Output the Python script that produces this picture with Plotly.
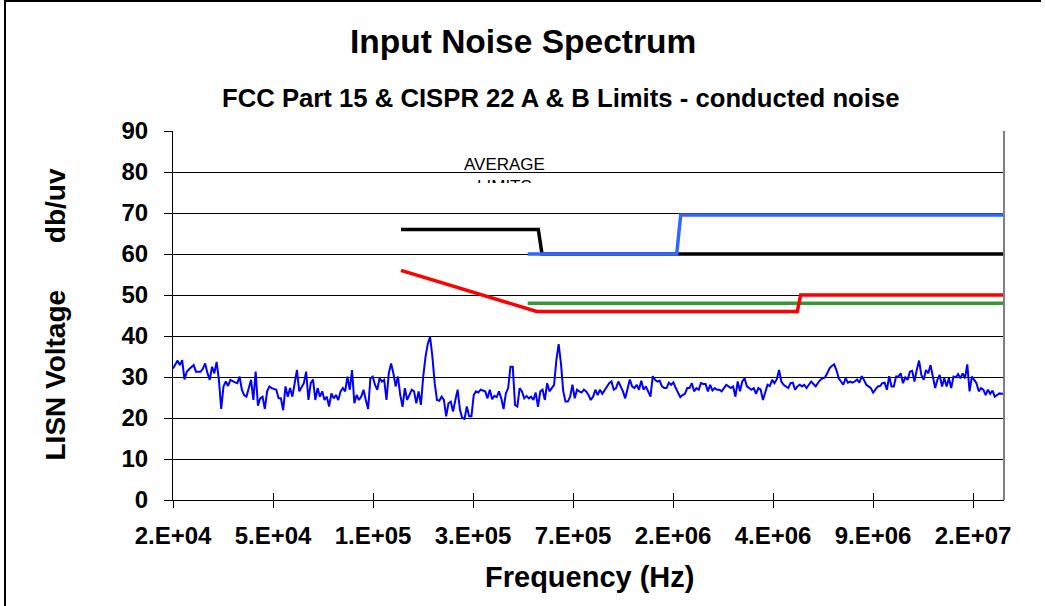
import numpy as np
import plotly.graph_objects as go

# ---- data ----
tick_labels = ["2.E+04", "5.E+04", "1.E+05", "3.E+05", "7.E+05",
               "2.E+06", "4.E+06", "9.E+06", "2.E+07"]
X_END = 8.31  # axis extent in tick-interval units

noise_low = [
    32.1, 32.9, 34.0, 32.9, 34.1, 29.4, 31.3, 31.9, 32.5, 32.9,
    31.3, 31.3, 31.3, 32.0, 33.3, 31.0, 29.3, 32.5, 30.9, 33.7,
    29.3, 22.2, 27.7, 28.9, 27.8, 29.3, 28.9, 28.7, 28.5, 30.1,
    26.9, 25.6, 25.2, 27.3, 29.3, 24.4, 31.3, 23.0, 24.8, 25.2,
    22.2, 26.5, 27.7, 27.3, 27.0, 26.9, 24.8, 24.8, 21.9, 27.7,
    25.2, 27.3, 25.2, 28.1, 31.7, 26.5, 27.7, 28.5, 31.3, 24.4,
    28.5, 29.4, 24.4, 27.3, 25.2, 26.5, 24.4, 25.2, 22.8, 26.0,
    24.8, 25.6, 24.4, 26.5, 27.3, 26.5, 30.1, 26.9, 31.7, 23.6,
    25.6, 24.4, 25.2, 26.9, 24.4, 22.2, 29.7, 30.1, 28.1, 26.9,
    29.7, 28.9, 29.3, 24.4, 30.9, 33.3, 30.9, 27.7, 30.1, 25.6,
    22.7, 27.3, 24.4, 25.6, 26.9, 26.5, 23.6, 26.5, 23.2, 30.1,
    34.9, 38.1, 39.8, 34.9, 28.5, 24.4, 24.2, 25.2, 24.4, 20.4,
    23.6, 24.0, 21.6, 24.4, 26.9, 22.0,
]
noise_mid = [
    20.0, 19.8, 22.8, 20.4, 20.4, 25.6, 26.5, 26.2, 26.9, 26.7,
    26.5, 24.8, 26.9, 24.6, 25.4, 25.1, 26.5, 24.8, 22.2, 26.0,
    27.3, 32.5, 32.5, 23.2, 22.8, 27.3, 26.5, 24.8, 25.4, 24.8,
    25.2, 24.4, 26.2, 22.7, 26.5, 26.9, 24.4, 28.5, 26.5, 27.3,
    28.1, 34.1, 38.0, 33.3, 26.5, 24.0, 24.0, 25.2, 28.1, 24.8,
    26.9, 26.5, 26.2, 26.9, 26.5, 25.6, 24.4, 25.2, 26.9, 25.6,
    26.9, 25.9, 26.7, 27.7, 28.5, 28.9, 26.9, 27.3, 28.9, 27.7,
    26.5, 24.8, 27.3, 29.4, 27.7, 27.3, 28.1, 26.9, 29.1, 26.9,
    27.7, 26.5, 25.2, 30.2, 29.3, 28.9, 29.1, 27.7, 27.3, 27.3,
    28.6, 28.1, 28.7, 27.3, 26.0, 25.1, 25.6, 25.9, 27.3, 27.3,
    28.5, 26.5, 27.3, 26.9, 28.5, 28.3, 28.3, 26.5, 28.1, 26.7,
    27.3, 26.9, 26.9, 26.5, 27.3, 28.1, 27.7, 27.3, 27.7, 25.2,
    28.9, 26.5,
]
noise_high = [
    28.9, 29.7, 27.7, 27.3, 26.9, 27.3, 25.9, 27.3, 26.9, 24.4,
    26.5, 28.1, 27.8, 29.3, 28.5, 29.4, 31.7, 28.9, 28.1, 27.7,
    27.3, 28.5, 28.6, 26.9, 27.7, 28.1, 27.7, 28.1, 27.3, 28.1,
    28.9, 28.3, 27.7, 28.6, 29.3, 29.7, 29.9, 30.9, 32.1, 32.7,
    33.1, 31.7, 29.7, 28.9, 28.1, 29.7, 28.6, 28.9, 28.6, 28.9,
    29.4, 28.6, 30.2, 29.3, 28.1, 27.7, 27.3, 26.2, 26.9, 27.7,
    27.8, 28.5, 28.6, 26.9, 30.2, 27.7, 27.7, 30.1, 30.1, 30.9,
    28.5, 29.9, 29.3, 31.3, 31.5, 28.9, 31.7, 34.0, 30.5, 29.3,
    31.7, 30.9, 32.9, 30.1, 27.3, 29.3, 30.5, 27.7, 29.7, 27.7,
    29.7, 27.3, 30.1, 29.9, 30.7, 29.7, 30.9, 29.7, 33.1, 26.5,
    30.1, 29.3, 28.5, 26.5, 27.3, 26.9, 25.6, 26.9, 25.9, 26.7,
    25.2, 25.6, 26.0, 25.9, 25.9,
]
noise_db = noise_low + noise_mid + noise_high

# limit lines (x in tick-interval units)
cispr_a_x = [2.28, 3.653, 3.69, X_END]
cispr_a_y = [66, 66, 60, 60]
fcc_a_x = [3.547, 5.037, 5.077, X_END]
fcc_a_y = [60, 60, 69.5, 69.5]
fcc_b_x = [3.547, X_END]
fcc_b_y = [48, 48]
cispr_b_x = [2.28, 3.637, 6.243, 6.277, X_END]
cispr_b_y = [56, 46, 46, 50, 50]

noise_x = np.linspace(0, X_END, len(noise_db))

FONT = "Liberation Sans, Arial, sans-serif"

fig = go.Figure()
fig.add_trace(go.Scatter(x=noise_x, y=noise_db, mode="lines",
                         line=dict(color="#0000FF", width=2), showlegend=False))
fig.add_trace(go.Scatter(x=cispr_a_x, y=cispr_a_y, mode="lines",
                         line=dict(color="#000000", width=3.5), showlegend=False))
fig.add_trace(go.Scatter(x=fcc_a_x, y=fcc_a_y, mode="lines",
                         line=dict(color="#3366FF", width=3.5), showlegend=False))
fig.add_trace(go.Scatter(x=fcc_b_x, y=fcc_b_y, mode="lines",
                         line=dict(color="#339933", width=3.5), showlegend=False))
fig.add_trace(go.Scatter(x=cispr_b_x, y=cispr_b_y, mode="lines",
                         line=dict(color="#FF0000", width=3.5), showlegend=False))
# helper trace for the inside tick marks axis
fig.add_trace(go.Scatter(x=[None], y=[None], xaxis="x2", showlegend=False,
                         hoverinfo="skip"))

L, R, T, B = 173, 41, 131, 106
W, H = 1045, 606
pw, ph = W - L - R, H - T - B

def px(xp):
    return (xp - L) / pw

def py(yp):
    return (H - B - yp) / ph

fig.update_layout(
    width=W, height=H,
    margin=dict(l=L, r=R, t=T, b=B, pad=0),
    paper_bgcolor="white", plot_bgcolor="white",
    font=dict(family=FONT, color="black"),
    xaxis=dict(range=[0, X_END], tickvals=list(range(len(tick_labels))),
               ticktext=tick_labels, ticks="outside", ticklen=7, tickwidth=1,
               tickcolor="black", showline=True, linecolor="black", linewidth=1,
               showgrid=False, zeroline=False, ticklabelstandoff=7,
               tickfont=dict(size=24, family=FONT, weight="bold")),
    xaxis2=dict(range=[0, X_END], overlaying="x", anchor="y",
                tickvals=list(range(len(tick_labels))), ticks="inside",
                ticklen=7, tickwidth=1, tickcolor="black",
                showticklabels=False, showline=False, showgrid=False,
                zeroline=False, side="bottom"),
    yaxis=dict(range=[0, 90], dtick=10, tick0=0, ticks="outside", ticklen=8,
               tickwidth=1, tickcolor="black", showline=True, linecolor="black",
               linewidth=1, showgrid=True, gridcolor="black", gridwidth=1,
               zeroline=False, ticklabelstandoff=11,
               tickfont=dict(size=24, family=FONT, weight="bold")),
    shapes=[
        dict(type="line", xref="paper", yref="paper", x0=1, x1=1, y0=0, y1=1,
             line=dict(color="#808080", width=2)),
        dict(type="line", xref="paper", yref="paper", x0=px(5), x1=px(5),
             y0=py(606), y1=py(1), line=dict(color="black", width=2)),
        dict(type="line", xref="paper", yref="paper", x0=px(4), x1=px(1041),
             y0=py(1), y1=py(1), line=dict(color="black", width=2)),
    ],
    annotations=[
        dict(text="Input Noise Spectrum", xref="paper", yref="paper",
             x=px(523), y=py(42), xanchor="center", yanchor="middle",
             showarrow=False, font=dict(size=33.5, family=FONT, weight="bold")),
        dict(text="FCC Part 15 &amp; CISPR 22 A &amp; B Limits - conducted noise",
             xref="paper", yref="paper", x=px(561), y=py(98),
             xanchor="center", yanchor="middle", showarrow=False,
             font=dict(size=25.7, family=FONT, weight="bold")),
        dict(text="Frequency (Hz)", xref="paper", yref="paper",
             x=px(589), y=py(577), xanchor="center", yanchor="middle",
             showarrow=False, font=dict(size=29, family=FONT, weight="bold")),
        dict(text="LISN Voltage" + "\u00a0" * 6 + "db/uv", xref="paper",
             yref="paper", x=px(55), y=py(314.5), xanchor="center",
             yanchor="middle", textangle=-90, showarrow=False,
             font=dict(size=28, family=FONT, weight="bold")),
        dict(text="AVERAGE<br>LIMITS", xref="x", yref="y", x=3.31, y=84.4,
             xanchor="center", yanchor="top", valign="top", height=28,
             borderpad=0, showarrow=False, font=dict(size=17, family=FONT)),
    ],
)

fig.write_html("out.html", config={"displayModeBar": False},
               post_script="document.body.style.margin='0';")
